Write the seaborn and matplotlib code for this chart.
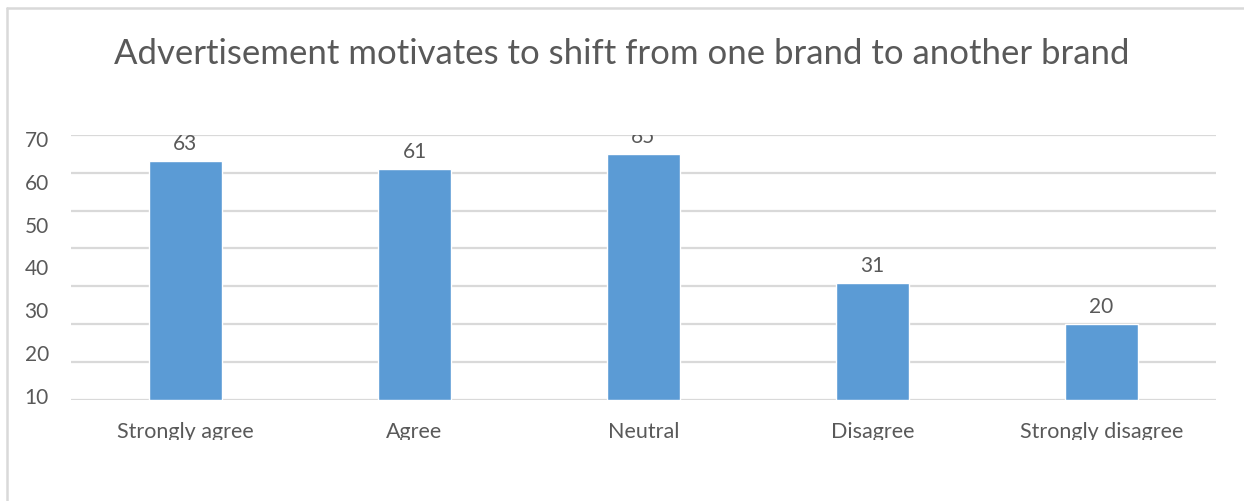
import numpy as np
import matplotlib
matplotlib.use("Agg")
import matplotlib.pyplot as plt
from matplotlib.lines import Line2D
from matplotlib.transforms import Bbox
import pandas as pd
import seaborn as sns

# Survey responses
categories = ["Strongly agree", "Agree", "Neutral", "Disagree", "Strongly disagree"]
counts = [63, 61, 65, 31, 20]
ytick_labels = ["10", "20", "30", "40", "50", "60", "70"]
title = "Advertisement motivates to shift from one brand to another brand"

BAR = "#5B9BD5"
GRID = "#D9D9D9"
TEXT = "#595959"

sns.set_style("white")
plt.rcParams["font.family"] = ["Lato", "DejaVu Sans"]

W, H, DPI = 1244, 501, 100
fig = plt.figure(figsize=(W / DPI, H / DPI), dpi=DPI)
fig.patch.set_facecolor("white")

# axes box in pixel units
left, right, top, bottom = 71, 1216, 134.7, 400
ax = fig.add_axes([left / W, 1 - bottom / H, (right - left) / W, (bottom - top) / H])

df = pd.DataFrame({"category": categories, "count": counts})
sns.barplot(data=df, x="category", y="count", order=categories, color=BAR,
            width=0.315, saturation=1, ax=ax)

ax.set_ylim(0, 70)
ax.set_xlim(-0.5, len(categories) - 0.5)

# gridlines every 10 units
ax.set_yticks(np.arange(0, 71, 10), minor=True)
ax.grid(True, which="minor", axis="y", color=GRID, linewidth=1.6)
ax.grid(False, which="major")
ax.set_axisbelow(True)
ax.tick_params(axis="y", which="minor", length=0)

# value axis labels spread evenly along the axis
ax.set_yticks(np.linspace(1.05, 68.9, len(ytick_labels)))
ax.set_yticklabels(ytick_labels)
ax.tick_params(axis="y", which="major", length=0, pad=16, labelsize=15, labelcolor=TEXT)
ax.tick_params(axis="x", length=0, pad=16, labelsize=15.5, labelcolor=TEXT)

for s in ax.spines.values():
    s.set_visible(False)
ax.set_xlabel("")
ax.set_ylabel("")

# value labels above bars, clipped to the plot area
for c in ax.containers:
    labels = ax.bar_label(c, labels=[str(v) for v in counts], padding=5,
                          fontsize=15, color=TEXT)
    for t in labels:
        t.set_clip_box(ax.bbox)
        t.set_clip_on(True)

# category labels cut off at the bottom of the chart area
clip = Bbox.from_extents(0, H - 440, W, H)
for t in ax.get_xticklabels():
    t.set_clip_box(clip)
    t.set_clip_on(True)

fig.text(622 / W, 1 - 54 / H, title, ha="center", va="center",
         fontsize=25, color=TEXT)

# chart frame (top and left edges)
fig.add_artist(Line2D([7 / W, 1], [1 - 8 / H, 1 - 8 / H], transform=fig.transFigure,
                      color=GRID, linewidth=1.8))
fig.add_artist(Line2D([7 / W, 7 / W], [0, 1 - 8 / H], transform=fig.transFigure,
                      color=GRID, linewidth=1.8))

fig.savefig("out.png", dpi=DPI)
